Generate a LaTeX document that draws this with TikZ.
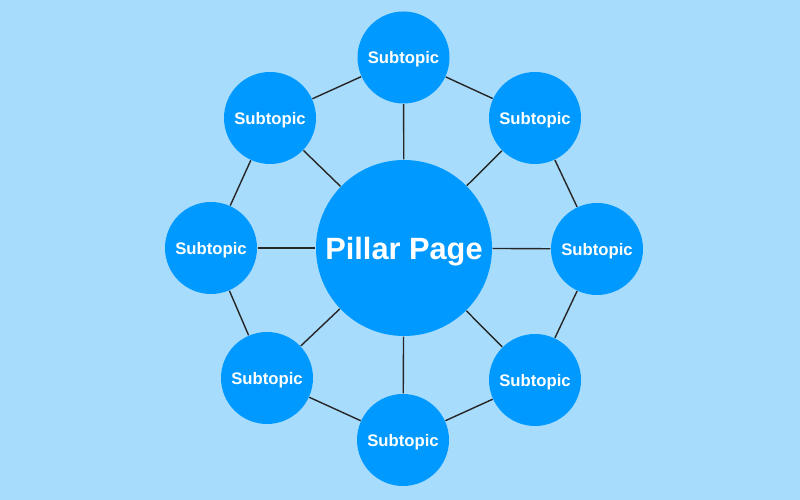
\documentclass[tikz,border=0pt]{standalone}
\usepackage{fontspec}
\setmainfont{Liberation Sans}
\usetikzlibrary{backgrounds}
\definecolor{bgblue}{RGB}{168,220,252}
\definecolor{topicblue}{RGB}{0,153,255}

\begin{document}
\begin{tikzpicture}[
            link/.style = {draw = black!85, line width = 0.8pt}, % connector style
            semithick
        ]

        \tikzset{
            pillar/.style = {circle, fill = topicblue, text = white,
                minimum size = 3.52cm, inner sep = 0pt, text depth = 0pt,
                font = \bfseries\fontsize{17.5}{20}\selectfont},
            subtopic/.style = {circle, fill = topicblue, text = white,
                minimum size = 1.84cm, inner sep = 0pt, text depth = 0pt,
                font = \bfseries\fontsize{9.5}{11}\selectfont}
        }

        \useasboundingbox (0,0) rectangle (16,10);

        % pillar
        \node[pillar] (P) at (8.08,5.04) {Pillar Page};

        % subtopics
        \node[subtopic] (T)  at (8.07,8.85) {Subtopic};
        \node[subtopic] (TR) at (10.70,7.64) {Subtopic};
        \node[subtopic] (R)  at (11.94,5.02) {Subtopic};
        \node[subtopic] (BR) at (10.70,2.40) {Subtopic};
        \node[subtopic] (B)  at (8.06,1.20) {Subtopic};
        \node[subtopic] (BL) at (5.34,2.44) {Subtopic};
        \node[subtopic] (L)  at (4.22,5.04) {Subtopic};
        \node[subtopic] (TL) at (5.40,7.64) {Subtopic};

        \begin{scope}[on background layer]
        % background
        \fill[bgblue] (0,0) rectangle (16,10);

        % spokes
        \draw[link] (P) -- (T);
        \draw[link] (P) -- (TR);
        \draw[link] (P) -- (R);
        \draw[link] (P) -- (BR);
        \draw[link] (P) -- (B);
        \draw[link] (P) -- (BL);
        \draw[link] (P) -- (L);
        \draw[link] (P) -- (TL);

        % ring
        \draw[link] (T) -- (TR);
        \draw[link] (TR) -- (R);
        \draw[link] (R) -- (BR);
        \draw[link] (BR) -- (B);
        \draw[link] (B) -- (BL);
        \draw[link] (BL) -- (L);
        \draw[link] (L) -- (TL);
        \draw[link] (TL) -- (T);
        \end{scope}

\end{tikzpicture}
\end{document}
